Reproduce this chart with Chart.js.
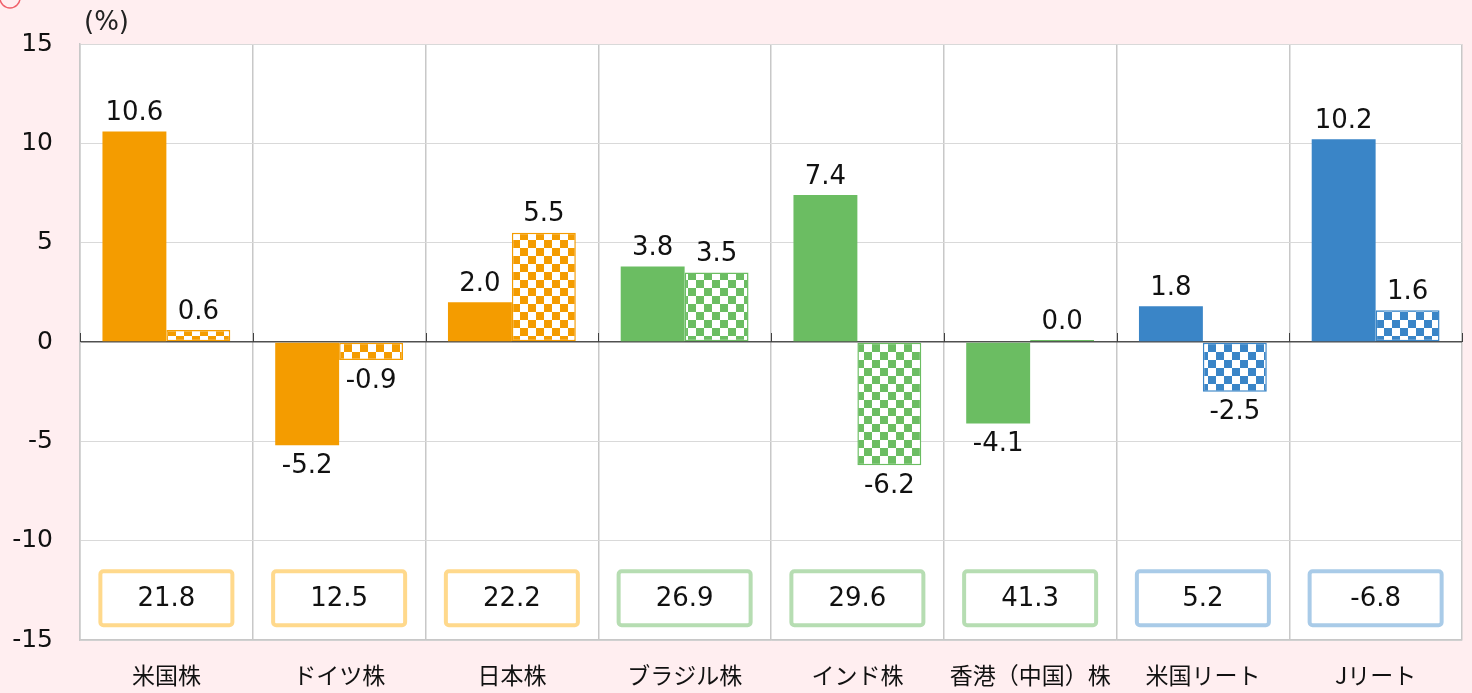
<!DOCTYPE html>
<html lang="ja">
  <head>
    <meta charset="UTF-8" />
    <title>Returns by asset class</title>
    <script src="https://cdn.jsdelivr.net/npm/chart.js@4.4.1/dist/chart.umd.min.js"></script>
    <style>
      body { margin: 0; background: #ffeef0; }
      canvas { display: block; }
    </style>
  </head>
  <body>
    <canvas id="chart" width="1472" height="693"></canvas>

    <script>
      const categories = ['米国株', 'ドイツ株', '日本株', 'ブラジル株', 'インド株', '香港（中国）株', '米国リート', 'Jリート']
      const solidValues = [10.6, -5.2, 2.0, 3.8, 7.4, -4.1, 1.8, 10.2]
      const checkValues = [0.6, -0.9, 5.5, 3.5, -6.2, 0.04, -2.5, 1.6]
      const boxValues = [21.8, 12.5, 22.2, 26.9, 29.6, 41.3, 5.2, -6.8]

      const orange = '#f49c00'
      const green = '#6bbd62'
      const blue = '#3a85c7'
      const barColors = [orange, orange, orange, green, green, green, blue, blue]
      const boxColors = ['#ffd98c', '#ffd98c', '#ffd98c', '#b6ddb2', '#b6ddb2', '#b6ddb2', '#a9cbe8', '#a9cbe8']

      const numFont = '26px "DejaVu Sans"'

      const makePattern = (color) => {
        const c = document.createElement('canvas')
        c.width = 16
        c.height = 16
        const g = c.getContext('2d')
        g.fillStyle = '#ffffff'
        g.fillRect(0, 0, 16, 16)
        g.fillStyle = color
        g.fillRect(0, 0, 8, 8)
        g.fillRect(8, 8, 8, 8)
        return g.createPattern(c, 'repeat')
      }

      const background = {
        id: 'background',
        beforeDraw(chart) {
          const { ctx, chartArea } = chart
          ctx.save()
          ctx.fillStyle = '#ffeef0'
          ctx.fillRect(0, 0, chart.width, chart.height)
          ctx.fillStyle = '#ffffff'
          ctx.fillRect(chartArea.left, chartArea.top, chartArea.right - chartArea.left, chartArea.bottom - chartArea.top)
          // little circle in the corner
          ctx.strokeStyle = '#f0606a'
          ctx.lineWidth = 1.5
          ctx.beginPath()
          ctx.arc(10, -2, 10, 0, Math.PI * 2)
          ctx.stroke()
          // unit
          ctx.fillStyle = '#222'
          ctx.font = '26px "DejaVu Sans"'
          ctx.textBaseline = 'middle'
          ctx.fillText('(%)', 84, 23)
          ctx.restore()
        },
      }

      const extras = {
        id: 'extras',
        afterDatasetsDraw(chart) {
          const { ctx } = chart
          const xs = chart.scales.x
          const ys = chart.scales.y
          const zero = ys.getPixelForValue(0)
          ctx.save()

          // small ticks on the zero line
          ctx.strokeStyle = '#404040'
          ctx.lineWidth = 1
          for (let i = 0; i <= categories.length; i++) {
            const x = i === 0 ? xs.left : i === categories.length ? xs.right : (xs.getPixelForValue(i - 1) + xs.getPixelForValue(i)) / 2
            ctx.beginPath()
            ctx.moveTo(Math.round(x) + 0.5, zero - 9)
            ctx.lineTo(Math.round(x) + 0.5, zero)
            ctx.stroke()
          }

          // value labels
          ctx.fillStyle = '#111'
          ctx.font = numFont
          ctx.textAlign = 'center'
          ctx.textBaseline = 'middle'
          chart.data.datasets.forEach((ds, di) => {
            chart.getDatasetMeta(di).data.forEach((bar, i) => {
              const v = ds.data[i]
              const y = v >= 0 ? bar.y - 18 : bar.y + 21
              ctx.fillText(v.toFixed(1), bar.x, y)
            })
          })

          // boxes
          const cy = ys.getPixelForValue(-12.9)
          boxValues.forEach((v, i) => {
            const cx = xs.getPixelForValue(i)
            ctx.beginPath()
            ctx.roundRect(cx - 66, cy - 27, 132, 54, 3)
            ctx.fillStyle = '#ffffff'
            ctx.fill()
            ctx.lineWidth = 4
            ctx.strokeStyle = boxColors[i]
            ctx.stroke()
            ctx.fillStyle = '#111'
            ctx.fillText(v.toFixed(1), cx, cy + 1)
          })
          ctx.restore()
        },
      }

      const ctx = document.getElementById('chart').getContext('2d')
      const chart = new Chart(ctx, {
        type: 'bar',
        data: {
          labels: categories,
          datasets: [
            {
              data: solidValues,
              backgroundColor: barColors,
              borderWidth: 0,
            },
            {
              data: checkValues,
              backgroundColor: barColors.map(makePattern),
              borderColor: barColors,
              borderWidth: 1.5,
              borderSkipped: false,
              minBarLength: 2,
            },
          ],
        },
        options: {
          responsive: false,
          animation: false,
          devicePixelRatio: 1,
          layout: { padding: { top: 44, right: 10, left: 0, bottom: 0 } },
          datasets: { bar: { categoryPercentage: 0.74, barPercentage: 1.0 } },
          scales: {
            x: {
              afterFit: (scale) => { scale.height = 53 },
              grid: { color: '#c8c8c8', lineWidth: 1.5, drawTicks: false },
              border: { color: '#c8c8c8', width: 1.5 },
              ticks: {
                color: '#111',
                padding: 21,
                font: { family: '"Noto Sans CJK JP"', size: 23 },
              },
            },
            y: {
              min: -15,
              max: 15,
              afterFit: (scale) => { scale.width = 80 },
              grid: {
                drawTicks: false,
                color: (c) => (c.tick && c.tick.value === 0 ? '#505050' : '#d9d9d9'),
                lineWidth: (c) => (c.tick && c.tick.value === 0 ? 1.5 : 1),
              },
              border: { color: '#c8c8c8', width: 1.5 },
              ticks: {
                stepSize: 5,
                color: '#111',
                padding: 27,
                font: { family: '"DejaVu Sans"', size: 25 },
              },
            },
          },
          plugins: {
            legend: { display: false },
            tooltip: { enabled: false },
          },
        },
        plugins: [background, extras],
      })
    </script>
  </body>
</html>
